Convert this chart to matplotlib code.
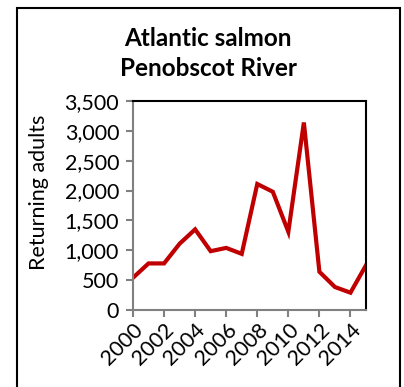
import matplotlib.pyplot as plt
from matplotlib.patches import Rectangle
from matplotlib.ticker import FuncFormatter

# Returning adult Atlantic salmon counted on the Penobscot River
years = [2000, 2001, 2002, 2003, 2004, 2005, 2006, 2007,
         2008, 2009, 2010, 2011, 2012, 2013, 2014, 2015]
returns = [540, 780, 780, 1110, 1350, 985, 1040, 940,
           2110, 1980, 1310, 3140, 640, 385, 290, 750]
tick_years = [2000, 2002, 2004, 2006, 2008, 2010, 2012, 2014]
y_ticks = [0, 500, 1000, 1500, 2000, 2500, 3000, 3500]

plt.rcParams['font.family'] = ['Lato', 'DejaVu Sans']

W, H = 404, 387
fig = plt.figure(figsize=(W / 100, H / 100), dpi=100)

# frame around the whole chart
fig.patches.append(Rectangle((17 / W, -0.1), 383 / W, 1.1 - 8 / H,
                             transform=fig.transFigure, fill=False,
                             edgecolor='black', linewidth=1.5))

ax = fig.add_axes([133 / W, 1 - 310 / H, 233 / W, 209 / H])
ax.plot(years, returns, color='#C00000', linewidth=3, solid_joinstyle='miter')

ax.set_xlim(2000, 2015)
ax.set_ylim(0, 3500)
ax.set_xticks(tick_years)
ax.set_xticklabels([str(y) for y in tick_years], rotation=45,
                   ha='right', rotation_mode='anchor')
ax.set_yticks(y_ticks)
ax.yaxis.set_major_formatter(FuncFormatter(lambda v, p: f'{int(v):,}'))
ax.tick_params(axis='both', labelsize=15.5, colors='#808080',
               labelcolor='black', length=5, width=1.5, direction='out')
ax.tick_params(axis='y', pad=5)
ax.tick_params(axis='x', pad=2)

for side in ('left', 'bottom'):
    ax.spines[side].set_color('#808080')
    ax.spines[side].set_linewidth(1.5)
for side in ('top', 'right'):
    ax.spines[side].set_color('black')
    ax.spines[side].set_linewidth(1.5)

ax.set_ylabel('Returning adults', fontsize=15.5, va='center')
ax.yaxis.set_label_coords(-0.405, 0.565)

fig.text(208 / W, 1 - 38 / H, 'Atlantic salmon', ha='center', va='center',
         fontsize=17.5, fontweight='bold')
fig.text(208 / W, 1 - 69 / H, 'Penobscot River', ha='center', va='center',
         fontsize=17.5, fontweight='bold')

fig.savefig('out.png', dpi=100)
